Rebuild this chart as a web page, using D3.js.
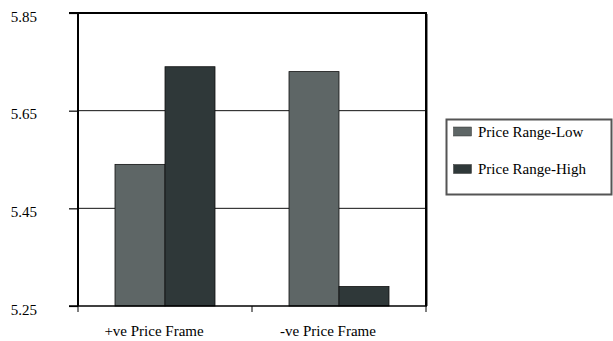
<!DOCTYPE html>
<html>
<head>
<meta charset="utf-8">
<script src="https://cdn.jsdelivr.net/npm/d3@7"></script>
<style>
  html, body { margin: 0; padding: 0; background: #fff; }
  svg { display: block; }
  text { font-family: "Liberation Serif", Tinos, "Times New Roman", Times, "DejaVu Serif", serif; font-size: 15px; fill: #000; }
</style>
</head>
<body>
<svg id="chart" width="613" height="341"></svg>
<script>
const categories = ["+ve Price Frame", "-ve Price Frame"];
const seriesNames = ["Price Range-Low", "Price Range-High"];
const lowValues = [5.54, 5.73];
const highValues = [5.74, 5.29];
const yTicks = [5.25, 5.45, 5.65, 5.85];
const colors = ["#5e6666", "#2f3839"];

const seriesValues = [lowValues, highValues];
const svg = d3.select("#chart");
const FONT = '"Liberation Serif", Tinos, "Times New Roman", Times, "DejaVu Serif", serif';

const pLeft = 78, pRight = 426, pTop = 13, pBottom = 306;

const y = d3.scaleLinear().domain([5.25, 5.85]).range([pBottom, pTop]);
const x0 = d3.scaleBand().domain(categories).range([pLeft, pRight]).padding(0);
const bw = x0.bandwidth();
const x1 = d3.scaleBand().domain(seriesNames).range([bw / 2 - 50, bw / 2 + 50]).padding(0);

// gridlines
svg.append("g")
  .selectAll("line")
  .data(yTicks.filter(t => t !== 5.25 && t !== 5.85))
  .join("line")
  .attr("x1", pLeft).attr("x2", pRight)
  .attr("y1", d => y(d)).attr("y2", d => y(d))
  .attr("stroke", "#111").attr("stroke-width", 1);

// bars
const rows = [];
categories.forEach((c, i) => {
  seriesNames.forEach((s, j) => rows.push({ c, s, j, v: seriesValues[j][i] }));
});
svg.append("g")
  .selectAll("rect")
  .data(rows)
  .join("rect")
  .attr("x", d => x0(d.c) + x1(d.s))
  .attr("width", x1.bandwidth())
  .attr("y", d => y(d.v))
  .attr("height", d => y(5.25) - y(d.v))
  .attr("fill", d => colors[d.j])
  .attr("stroke", "#111")
  .attr("stroke-width", 0.8);

// y axis
const yAxis = d3.axisLeft(y).tickValues(yTicks).tickFormat(d3.format(".2f")).tickSize(9).tickPadding(32);
const gy = svg.append("g").attr("transform", `translate(${pLeft},0)`).call(yAxis);
gy.attr("font-family", null).attr("font-size", null);
gy.select(".domain").remove();
gy.selectAll(".tick line").attr("stroke", "#000").attr("stroke-width", 1.2);
gy.selectAll(".tick text")
  .attr("dy", "0.55em")
  .attr("x", -41)
  .attr("fill", "#000")
  .style("font-family", FONT).style("font-size", "15px");

// frame: left, top, right
svg.append("line").attr("x1", pLeft).attr("x2", pLeft).attr("y1", pTop - 0.5).attr("y2", pBottom)
  .attr("stroke", "#000").attr("stroke-width", 2);
svg.append("line").attr("x1", pLeft - 9).attr("x2", pRight + 1).attr("y1", pTop).attr("y2", pTop)
  .attr("stroke", "#000").attr("stroke-width", 2);
svg.append("line").attr("x1", pRight + 1.5).attr("x2", pRight + 1.5).attr("y1", pTop + 1).attr("y2", pBottom)
  .attr("stroke", "#888").attr("stroke-width", 1);
svg.append("line").attr("x1", pRight).attr("x2", pRight).attr("y1", pTop - 1).attr("y2", pBottom)
  .attr("stroke", "#000").attr("stroke-width", 2);

// x axis
const xAxis = d3.axisBottom(x0).tickSize(0).tickPadding(0);
const gx = svg.append("g").attr("transform", `translate(0,${pBottom})`).call(xAxis);
gx.attr("font-family", null).attr("font-size", null);
gx.select(".domain").remove();
gx.selectAll(".tick text")
  .attr("y", 30).attr("dy", 0).attr("dx", -11)
  .attr("fill", "#000")
  .style("font-family", FONT).style("font-size", "15px");
svg.append("line").attr("x1", pLeft - 9).attr("x2", pRight + 1).attr("y1", pBottom).attr("y2", pBottom)
  .attr("stroke", "#000").attr("stroke-width", 1.5);
const bounds = categories.map(c => x0(c)).concat([x0(categories[categories.length - 1]) + bw]);
svg.append("g").selectAll("line").data(bounds).join("line")
  .attr("x1", d => d).attr("x2", d => d)
  .attr("y1", pBottom).attr("y2", pBottom + 6)
  .attr("stroke", "#000").attr("stroke-width", 1);

// legend
const lg = svg.append("g");
lg.append("rect").attr("x", 446.5).attr("y", 119.5).attr("width", 165).attr("height", 75)
  .attr("fill", "#fff").attr("stroke", "#555").attr("stroke-width", 2);
const li = lg.selectAll("g.item").data(seriesNames).join("g").attr("class", "item")
  .attr("transform", (d, i) => `translate(0,${i * 37.5})`);
li.append("rect").attr("x", 453.5).attr("y", 127).attr("width", 18).attr("height", 9)
  .attr("fill", (d, i) => colors[i]).attr("stroke", "#333").attr("stroke-width", 0.5);
li.append("text").attr("x", 478).attr("y", 136.5).style("font-family", FONT).text(d => d);
</script>
</body>
</html>
